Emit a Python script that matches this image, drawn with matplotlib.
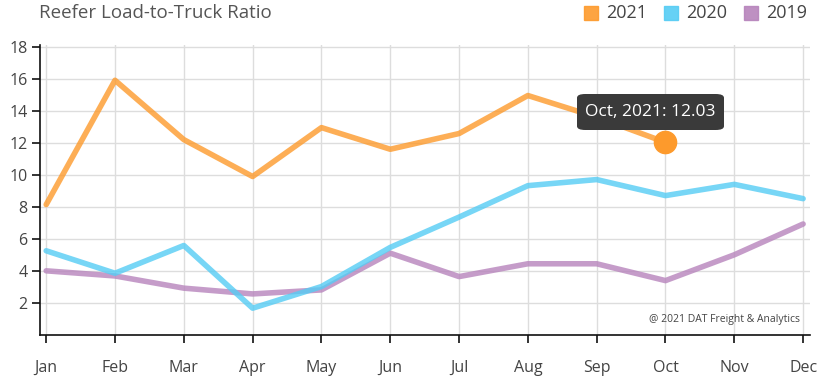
import matplotlib
matplotlib.use("Agg")
import matplotlib.pyplot as plt
from matplotlib.patches import FancyBboxPatch

plt.rcParams['font.family'] = ['Open Sans', 'DejaVu Sans']

months = ['Jan', 'Feb', 'Mar', 'Apr', 'May', 'Jun', 'Jul', 'Aug', 'Sep', 'Oct', 'Nov', 'Dec']
y2021 = [8.15, 15.9, 12.2, 9.9, 12.95, 11.6, 12.58, 14.95, 13.6, 12.03]
y2020 = [5.27, 3.87, 5.6, 1.69, 3.04, 5.48, 7.37, 9.33, 9.71, 8.71, 9.41, 8.52]
y2019 = [4.02, 3.7, 2.94, 2.58, 2.83, 5.12, 3.66, 4.46, 4.46, 3.41, 5.02, 6.94]
yticks = [2, 4, 6, 8, 10, 12, 14, 16, 18]

c2021 = '#fd9a2c'
c2020 = '#55ccf4'
c2019 = '#b784bc'

fig = plt.figure(figsize=(8.28, 3.77), dpi=100)
ax = fig.add_axes([40 / 828, (377 - 335.3) / 377, (810 - 40) / 828, (335.3 - 45) / 377])

x = list(range(len(months)))
ax.plot(x[:len(y2021)], y2021, color=c2021, lw=4, alpha=0.8, solid_capstyle='round', zorder=3)
ax.plot(x, y2020, color=c2020, lw=4, alpha=0.8, solid_capstyle='round', zorder=3)
ax.plot(x, y2019, color=c2019, lw=4, alpha=0.8, solid_capstyle='round', zorder=2)
ax.plot([9], [y2021[9]], 'o', color=c2021, ms=16, zorder=4)

ax.set_xlim(-0.09, 11.1)
ax.set_ylim(0, 18.1)
ax.set_xticks(x)
ax.set_xticklabels(months)
ax.set_yticks(yticks)
ax.grid(True, color='#dddddd', lw=1)
ax.set_axisbelow(True)
for s in ['top', 'right']:
    ax.spines[s].set_visible(False)
for s in ['left', 'bottom']:
    ax.spines[s].set_color('#111111')
    ax.spines[s].set_linewidth(1.2)
ax.tick_params(axis='both', length=6, width=1.2, color='#111111', labelcolor='#444444', labelsize=11.5)
ax.tick_params(axis='x', pad=12)
ax.tick_params(axis='y', pad=3)

fig.text(39 / 828, 1 - 13 / 377, 'Reefer Load-to-Truck Ratio', fontsize=13.5, color='#555555', va='center', ha='left')

legend_items = [('2021', c2021, 584), ('2020', c2020, 664), ('2019', c2019, 744)]
for lab, col, px in legend_items:
    fig.patches.append(plt.Rectangle((px / 828, 1 - 20 / 377), 14 / 828, 14 / 377,
                                     transform=fig.transFigure, color=col, alpha=0.9))
    fig.text((px + 22) / 828, 1 - 13 / 377, lab, fontsize=13, color='#444444', va='center', ha='left')

# tooltip
box = FancyBboxPatch((577 / 828, 1 - 130 / 377), 147 / 828, 36 / 377,
                     boxstyle='round,pad=0,rounding_size=0.01', transform=fig.transFigure,
                     facecolor='#3a3a3a', edgecolor='none', zorder=10)
fig.patches.append(box)
fig.text(650 / 828, 1 - 112 / 377, 'Oct, 2021: 12.03', fontsize=12.5, color='white',
         ha='center', va='center', zorder=11)

ax.text(0.987, 0.035, '@ 2021 DAT Freight & Analytics', transform=ax.transAxes,
        fontsize=7.5, color='#444444', ha='right', va='bottom')

fig.savefig('out.png', dpi=100)
